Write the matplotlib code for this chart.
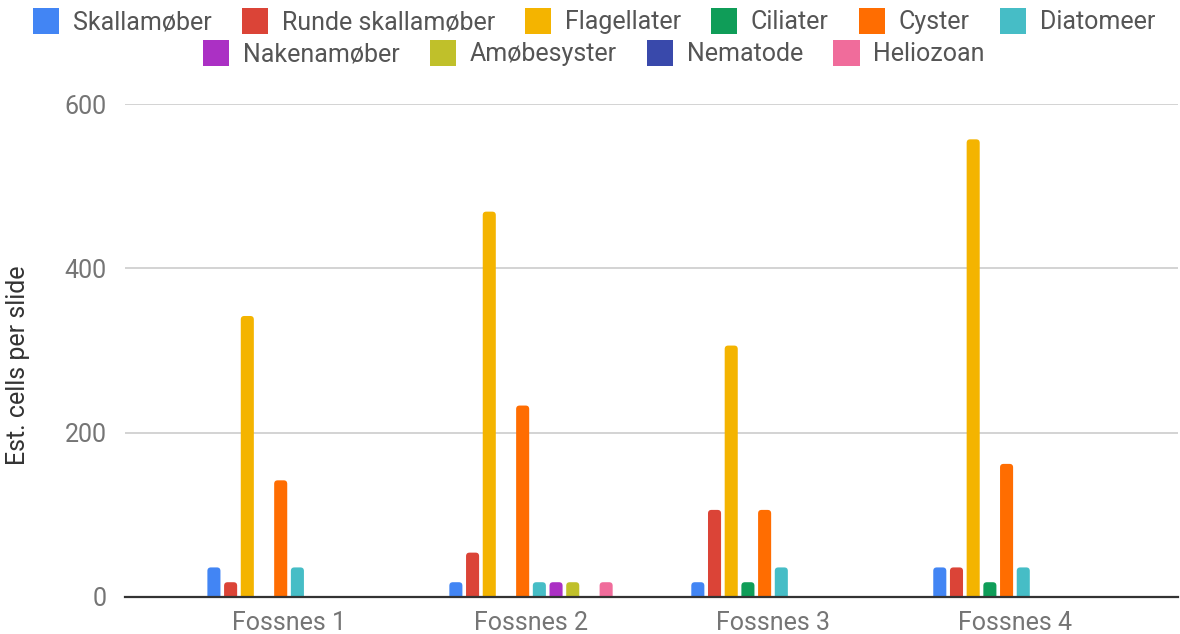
import matplotlib
matplotlib.use("Agg")
import matplotlib.pyplot as plt
from matplotlib.patches import Patch, FancyBboxPatch
import numpy as np

plt.rcParams['font.family'] = ['Roboto', 'DejaVu Sans']

sites = ["Fossnes 1", "Fossnes 2", "Fossnes 3", "Fossnes 4"]
series_names = ["Skallamøber", "Runde skallamøber", "Flagellater", "Ciliater", "Cyster",
                "Diatomeer", "Nakenamøber", "Amøbesyster", "Nematode", "Heliozoan"]
skallamober = [36, 18, 18, 36]
runde_skallamober = [18, 54, 106, 36]
flagellater = [342, 469, 306, 557]
ciliater = [0, 0, 18, 18]
cyster = [142, 233, 106, 162]
diatomeer = [36, 18, 36, 36]
nakenamober = [0, 18, 0, 0]
amobesyster = [0, 18, 0, 0]
nematode = [0, 0, 0, 0]
heliozoan = [0, 18, 0, 0]
series_values = [skallamober, runde_skallamober, flagellater, ciliater, cyster,
                 diatomeer, nakenamober, amobesyster, nematode, heliozoan]
colors = ["#4285F4", "#DB4437", "#F4B400", "#0F9D58", "#FF6D01",
          "#46BDC6", "#AB30C4", "#C0C02A", "#3949AB", "#F06C9B"]
y_ticks = [0, 200, 400, 600]

fig = plt.figure(figsize=(11.8, 6.34), dpi=100)
ax = fig.add_axes([125 / 1180, 1 - 597 / 634, (1178 - 125) / 1180, (597 - 104) / 634])

x = np.arange(len(sites))
slot = 0.069
bar_w = 0.054
n = len(series_names)

# pixel-to-data scale for rounded bar tops
ax.set_xlim(-0.678, 3.674)
ax.set_ylim(0, 600)
px_x = (3.674 + 0.678) / 1053
px_y = 600 / 493
r_px = 3.5

for i, (name, vals, c) in enumerate(zip(series_names, series_values, colors)):
    xs = x + (i - (n - 1) / 2) * slot
    for xc, v in zip(xs, vals):
        if v <= 0:
            continue
        h = v + r_px * px_y  # extend below baseline so only top corners show round
        patch = FancyBboxPatch((xc - bar_w / 2, -r_px * px_y), bar_w, h,
                               boxstyle=f"round,pad=0,rounding_size={r_px * px_x}",
                               mutation_aspect=px_y / px_x,
                               facecolor=c, edgecolor="none", zorder=3, clip_on=True)
        ax.add_patch(patch)

fs = 18
ax.set_yticks(y_ticks)
ax.set_yticklabels([str(t) for t in y_ticks])
ax.set_xticks(x)
ax.set_xticklabels(sites)
ax.tick_params(axis='both', length=0, labelsize=fs, colors="#757575")
ax.tick_params(axis='y', pad=13)
ax.tick_params(axis='x', pad=10)
ax.grid(axis='y', color="#CCCCCC", linewidth=1.2, zorder=0)
ax.set_axisbelow(True)
for s in ["top", "right", "left"]:
    ax.spines[s].set_visible(False)
ax.spines["bottom"].set_color("#333333")
ax.spines["bottom"].set_linewidth(1.6)
ax.spines["bottom"].set_zorder(4)

fig.text(18 / 1180, 1 - 365 / 634, "Est. cells per slide", rotation=90,
         ha="center", va="center", fontsize=18, color="#333333")

handles = [Patch(facecolor=c, edgecolor="none") for c in colors]
leg_kw = dict(frameon=False, fontsize=fs, handlelength=1.05, handleheight=1.25,
              handletextpad=0.55, columnspacing=1.2, borderaxespad=0, labelcolor="#555555")
leg1 = fig.legend(handles[:6], series_names[:6], ncol=6, loc="center",
                  bbox_to_anchor=(594 / 1180, 1 - 21 / 634), **leg_kw)
leg2 = fig.legend(handles[6:], series_names[6:], ncol=4, loc="center",
                  bbox_to_anchor=(594 / 1180, 1 - 53 / 634), **leg_kw)

fig.savefig("out.png", dpi=100, facecolor="white")
